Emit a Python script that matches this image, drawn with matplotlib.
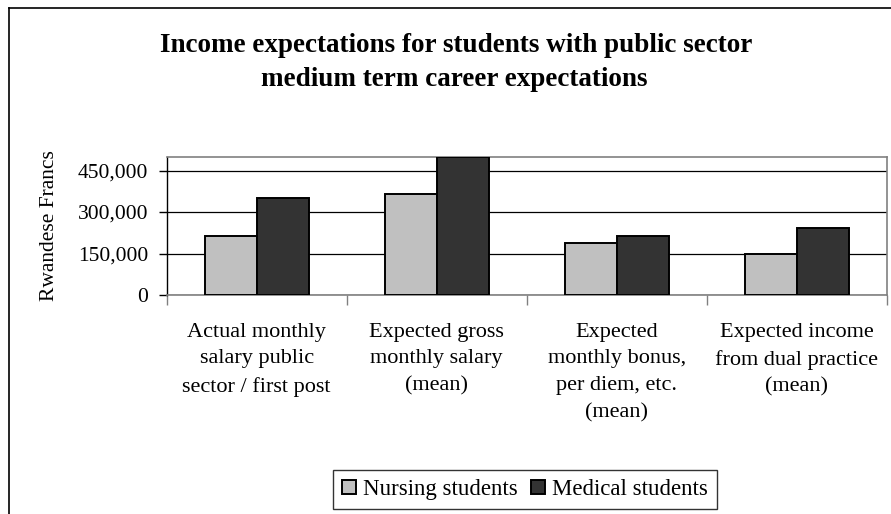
import matplotlib.pyplot as plt
import numpy as np
from matplotlib.lines import Line2D

categories = ['Actual monthly\nsalary public\nsector / first post',
              'Expected gross\nmonthly salary\n(mean)',
              'Expected\nmonthly bonus,\nper diem, etc.\n(mean)',
              'Expected income\nfrom dual practice\n(mean)']
nursing = [215000, 365000, 187000, 148000]
medical = [350000, 500000, 215000, 241000]
yticks = [0, 150000, 300000, 450000]

plt.rcParams['font.family'] = ['Liberation Serif', 'DejaVu Serif']

fig = plt.figure(figsize=(8.91, 5.14), dpi=100)
ax = fig.add_axes([166.7/891, 1-295/514, (886.7-166.7)/891, (295-156.7)/514])

x = np.arange(len(categories))
w = 0.29
ax.bar(x - w/2, nursing, w, color='#c0c0c0', edgecolor='black', linewidth=1.4,
       label='Nursing students', zorder=3)
ax.bar(x + w/2, medical, w, color='#333333', edgecolor='black', linewidth=1.4,
       label='Medical students', zorder=3)

ax.set_xlim(-0.5, len(categories) - 0.5)
ax.set_ylim(0, 500000)
ax.set_yticks(yticks)
ax.set_yticklabels(['{:,}'.format(v) for v in yticks], fontsize=15.5)
ax.yaxis.grid(True, color='black', linewidth=0.9, zorder=0)

ax.set_xticks(x)
ax.set_xticklabels(categories, fontsize=16, linespacing=1.55, va='top')
ax.tick_params(axis='x', length=0, pad=20)
ax.set_xticks(np.arange(-0.5, len(categories)), minor=True)
ax.tick_params(axis='x', which='minor', length=7, width=1, color='#808080', direction='out')
ax.tick_params(axis='y', length=6, width=1, color='black', direction='out', pad=7.5)

for s in ['top', 'right', 'bottom']:
    ax.spines[s].set_color('#808080')
    ax.spines[s].set_linewidth(1.2)
ax.spines['left'].set_color('black')
ax.spines['left'].set_linewidth(1.0)

ax.set_ylabel('Rwandese Francs', fontsize=15.5)
ax.yaxis.set_label_coords(-0.149, 0.5)

fig.text(0.512, 1-45/514, 'Income expectations for students with public sector',
         ha='center', va='center', fontsize=19.5, fontweight='bold')
fig.text(0.51, 1-80/514, 'medium term career expectations',
         ha='center', va='center', fontsize=19.5, fontweight='bold')

leg = ax.legend(loc='center', bbox_to_anchor=(525/891, 1-489.5/514),
                bbox_transform=fig.transFigure, ncol=2, fontsize=16.5,
                frameon=True, fancybox=False, edgecolor='black',
                handlelength=0.6, handleheight=0.6, handletextpad=0.3,
                columnspacing=0.6, borderpad=0.4)
leg.get_frame().set_linewidth(1.0)

fig.add_artist(Line2D([9.3/891, 9.3/891], [0, 1-8/514], color='black', linewidth=1.2))
fig.add_artist(Line2D([9.3/891, 1], [1-8/514, 1-8/514], color='black', linewidth=1.2))

fig.savefig('out.png', dpi=100)
